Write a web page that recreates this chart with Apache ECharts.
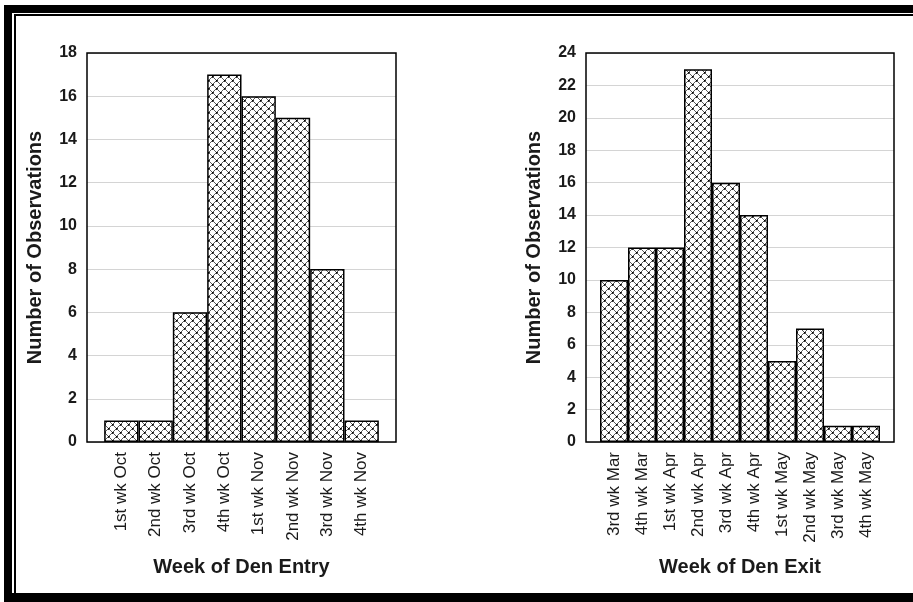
<!DOCTYPE html>
<html>
<head>
<meta charset="utf-8">
<script src="https://cdn.jsdelivr.net/npm/echarts@6/dist/echarts.min.js"></script>
<style>
html,body{margin:0;padding:0;background:#fff;}
#c{width:913px;height:602px;}
</style>
</head>
<body>
<div id="c"></div>
<script>
// ---- data ----
const entryWeeks = ['1st wk Oct','2nd wk Oct','3rd wk Oct','4th wk Oct','1st wk Nov','2nd wk Nov','3rd wk Nov','4th wk Nov'];
const entryCounts = [1, 1, 6, 17, 16, 15, 8, 1];
const exitWeeks = ['3rd wk Mar','4th wk Mar','1st wk Apr','2nd wk Apr','3rd wk Apr','4th wk Apr','1st wk May','2nd wk May','3rd wk May','4th wk May'];
const exitCounts = [10, 12, 12, 23, 16, 14, 5, 7, 1, 1];
const entryYTicks = {min: 0, max: 18, interval: 2};
const exitYTicks = {min: 0, max: 24, interval: 2};
const yTitle = 'Number of Observations';
const entryTitle = 'Week of Den Entry';
const exitTitle = 'Week of Den Exit';

// ---- crosshatch pattern ----
function makePattern() {
  const P = 8;
  const cv = document.createElement('canvas');
  cv.width = P; cv.height = P;
  const ctx = cv.getContext('2d');
  ctx.fillStyle = '#ffffff';
  ctx.fillRect(0, 0, P, P);
  ctx.fillStyle = '#5a5a5a';
  for (let i = 0; i < P; i++) {
    ctx.fillRect(i, i, 1, 1);
    ctx.fillRect(i, (P - i) % P, 1, 1);
  }
  ctx.fillStyle = '#000000';
  const dots = [[0,0],[4,4]];
  dots.forEach(([x,y]) => {
    ctx.fillRect(x, y, 1, 1);
    ctx.fillStyle = '#333333';
    [[1,0],[0,1]].forEach(([dx,dy]) => {
      ctx.fillRect((x+dx+P)%P, (y+dy+P)%P, 1, 1);
    });
    ctx.fillStyle = '#000000';
  });
  return cv;
}
const pattern = {image: makePattern(), repeat: 'repeat'};

const FONT = '"Liberation Sans", Arial, sans-serif';
const chart = echarts.init(document.getElementById('c'), null, {renderer: 'canvas'});

function xAxisFor(cats, title, gridIndex) {
  return {
    type: 'value', gridIndex: gridIndex,
    min: -1, max: cats.length, interval: 1,
    name: title, nameLocation: 'middle', nameGap: 115,
    nameTextStyle: {fontFamily: FONT, fontWeight: 'bold', fontSize: 20, color: '#1a1a1a'},
    axisLine: {show: false}, axisTick: {show: false}, splitLine: {show: false},
    axisLabel: {
      rotate: 90, margin: 10, fontFamily: FONT, fontSize: 17, color: '#1a1a1a',
      formatter: v => (v >= 0 && v < cats.length && Number.isInteger(v)) ? cats[v] : ''
    }
  };
}
function yAxisFor(t, gridIndex) {
  return {
    type: 'value', gridIndex: gridIndex,
    min: t.min, max: t.max, interval: t.interval,
    name: yTitle, nameLocation: 'middle', nameGap: 42, nameRotate: 90,
    nameTextStyle: {fontFamily: FONT, fontWeight: 'bold', fontSize: 20, color: '#1a1a1a'},
    axisLine: {show: false}, axisTick: {show: false},
    splitLine: {show: true, lineStyle: {color: '#d4d4d4', width: 1}},
    axisLabel: {margin: 10, fontFamily: FONT, fontWeight: 'bold', fontSize: 16, color: '#1a1a1a'}
  };
}
function barSeries(vals, idx) {
  return {
    type: 'bar', xAxisIndex: idx, yAxisIndex: idx,
    data: vals.map((v, i) => [i, v]),
    barCategoryGap: '0%', barWidth: '100%',
    itemStyle: {color: pattern, borderColor: '#000', borderWidth: 1.5},
    silent: true, animation: false
  };
}

const frame = [
  {type: 'rect', shape: {x: 4, y: 5, width: 909, height: 8}, style: {fill: '#000'}},
  {type: 'rect', shape: {x: 14, y: 14, width: 899, height: 2}, style: {fill: '#000'}},
  {type: 'rect', shape: {x: 4, y: 5, width: 8, height: 597}, style: {fill: '#000'}},
  {type: 'rect', shape: {x: 14, y: 14, width: 2, height: 588}, style: {fill: '#000'}},
  {type: 'rect', shape: {x: 4, y: 593, width: 909, height: 9}, style: {fill: '#000'}}
];

chart.setOption({
  animation: false,
  backgroundColor: '#fff',
  graphic: frame,
  grid: [
    {left: 87, right: 517, top: 53, bottom: 160, show: true, borderColor: '#000', borderWidth: 1.5, backgroundColor: 'transparent', z: 3},
    {left: 586, right: 19, top: 53, bottom: 160, show: true, borderColor: '#000', borderWidth: 1.5, backgroundColor: 'transparent', z: 3}
  ],
  xAxis: [xAxisFor(entryWeeks, entryTitle, 0), xAxisFor(exitWeeks, exitTitle, 1)],
  yAxis: [yAxisFor(entryYTicks, 0), yAxisFor(exitYTicks, 1)],
  series: [barSeries(entryCounts, 0), barSeries(exitCounts, 1)]
});
</script>
</body>
</html>
